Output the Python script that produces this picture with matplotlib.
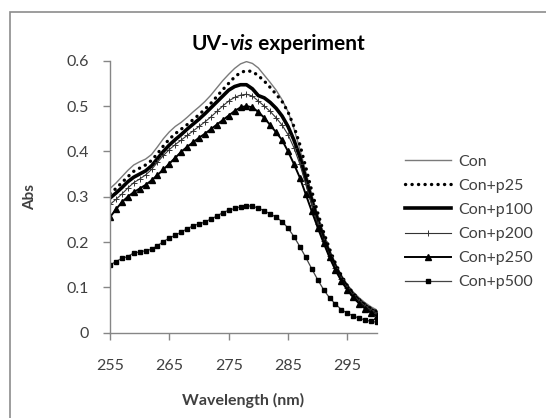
import matplotlib
matplotlib.use("Agg")
import matplotlib.pyplot as plt
from matplotlib.patches import Rectangle

wavelength = list(range(255, 301))

con = [0.318, 0.330, 0.344, 0.358, 0.370, 0.377, 0.383, 0.393, 0.410, 0.428,
       0.443, 0.455, 0.464, 0.475, 0.487, 0.498, 0.510, 0.524, 0.540, 0.556,
       0.570, 0.583, 0.593, 0.598, 0.594, 0.584, 0.568, 0.552, 0.535, 0.514,
       0.488, 0.450, 0.405, 0.355, 0.305, 0.260, 0.220, 0.183, 0.153, 0.127,
       0.106, 0.090, 0.077, 0.066, 0.057, 0.050]
con_p25 = [0.307, 0.318, 0.331, 0.344, 0.356, 0.363, 0.370, 0.380, 0.395, 0.412,
           0.427, 0.439, 0.449, 0.459, 0.470, 0.481, 0.493, 0.506, 0.521, 0.536,
           0.550, 0.564, 0.574, 0.578, 0.576, 0.567, 0.555, 0.541, 0.526, 0.510,
           0.487, 0.455, 0.415, 0.365, 0.313, 0.265, 0.222, 0.185, 0.153, 0.126,
           0.104, 0.087, 0.073, 0.062, 0.053, 0.046]
con_p100 = [0.297, 0.308, 0.320, 0.333, 0.343, 0.350, 0.357, 0.368, 0.384, 0.400,
            0.414, 0.426, 0.437, 0.449, 0.460, 0.471, 0.483, 0.496, 0.509, 0.522,
            0.535, 0.543, 0.547, 0.547, 0.538, 0.523, 0.518, 0.508, 0.495, 0.478,
            0.455, 0.425, 0.388, 0.340, 0.292, 0.248, 0.208, 0.174, 0.145, 0.120,
            0.100, 0.084, 0.071, 0.060, 0.051, 0.044]
con_p200 = [0.283, 0.294, 0.306, 0.319, 0.331, 0.339, 0.348, 0.360, 0.376, 0.391,
            0.404, 0.415, 0.425, 0.435, 0.445, 0.455, 0.465, 0.476, 0.488, 0.500,
            0.511, 0.519, 0.524, 0.526, 0.522, 0.511, 0.500, 0.488, 0.474, 0.458,
            0.437, 0.408, 0.372, 0.327, 0.282, 0.240, 0.202, 0.170, 0.142, 0.118,
            0.099, 0.083, 0.070, 0.059, 0.050, 0.043]
con_p250 = [0.255, 0.272, 0.288, 0.300, 0.310, 0.318, 0.326, 0.336, 0.348, 0.360,
            0.373, 0.386, 0.399, 0.410, 0.420, 0.430, 0.439, 0.449, 0.459, 0.469,
            0.479, 0.489, 0.497, 0.500, 0.497, 0.487, 0.474, 0.458, 0.442, 0.425,
            0.400, 0.372, 0.342, 0.305, 0.268, 0.232, 0.198, 0.166, 0.138, 0.114,
            0.094, 0.078, 0.064, 0.053, 0.044, 0.037]
con_p500 = [0.149, 0.157, 0.164, 0.168, 0.176, 0.178, 0.181, 0.184, 0.192, 0.201,
            0.209, 0.215, 0.222, 0.229, 0.236, 0.240, 0.244, 0.251, 0.257, 0.265,
            0.270, 0.274, 0.278, 0.280, 0.279, 0.275, 0.269, 0.262, 0.255, 0.245,
            0.231, 0.212, 0.190, 0.166, 0.141, 0.117, 0.095, 0.077, 0.063, 0.051,
            0.043, 0.037, 0.032, 0.028, 0.025, 0.023]

x_ticks = [255, 265, 275, 285, 295]
y_ticks = [0, 0.1, 0.2, 0.3, 0.4, 0.5, 0.6]
y_tick_labels = ["0", "0.1", "0.2", "0.3", "0.4", "0.5", "0.6"]

plt.rcParams['font.family'] = ['Lato', 'DejaVu Sans']
txt = '#404040'
axis_col = '#868686'

fig = plt.figure(figsize=(5.46, 4.18), dpi=100)
ax = fig.add_axes([110/546, 1 - 332.7/418, 267/546, 272/418])

ax.plot(wavelength, con, color='#7a7a7a', lw=1.0, label='Con')
ax.plot(wavelength, con_p25, color='black', lw=2.4, linestyle=(0, (0.05, 1.9)),
        dash_capstyle='round', label='Con+p25')
ax.plot(wavelength, con_p100, color='black', lw=2.6, label='Con+p100')
ax.plot(wavelength, con_p200, color='#333333', lw=0.8, marker='+', ms=4,
        mew=0.7, label='Con+p200')
ax.plot(wavelength, con_p250, color='black', lw=1.4, marker='^', ms=4.5,
        label='Con+p250')
ax.plot(wavelength, con_p500, color='#444444', lw=0.9, marker='s', ms=3.4,
        mfc='black', mec='black', label='Con+p500')

ax.set_xlim(255, 300)
ax.set_ylim(0, 0.6)
ax.set_xticks(x_ticks)
ax.set_yticks(y_ticks)
ax.set_yticklabels(y_tick_labels)
for s in ['top', 'right']:
    ax.spines[s].set_visible(False)
for s in ['left', 'bottom']:
    ax.spines[s].set_color(axis_col)
    ax.spines[s].set_linewidth(1.0)
ax.tick_params(axis='both', colors=axis_col, labelcolor=txt, labelsize=11.5,
               length=5, width=1.0, direction='out')
ax.tick_params(axis='y', pad=10)
ax.tick_params(axis='x', pad=14)

fig.text(30/546, 1 - 197/418, 'Abs', rotation=90, ha='center', va='center',
         fontsize=11, fontweight='bold', color=txt)
fig.text(243/546, 1 - 400/418, 'Wavelength (nm)', ha='center', va='center',
         fontsize=11.5, fontweight='bold', color=txt)

# title with italic "vis"
parts = [('UV-', 'normal'), ('vis', 'italic'), (' experiment', 'normal')]
renderer = fig.canvas.get_renderer()
widths = []
objs = []
for s, st in parts:
    t = fig.text(0, 1 - 50/418, s, fontsize=15, fontweight='bold', style=st,
                 color='black', ha='left', va='baseline')
    objs.append(t)
    widths.append(t.get_window_extent(renderer).width)
total = sum(widths)
x0 = 278 - total / 2
for t, w in zip(objs, widths):
    t.set_x(x0 / 546)
    x0 += w

leg = fig.legend(loc='center left', bbox_to_anchor=(405/546, 1 - 222/418),
                 frameon=False, fontsize=11.5, handlelength=2.9,
                 handletextpad=0.45, labelspacing=0.62, borderpad=0,
                 borderaxespad=0, numpoints=1)
for t in leg.get_texts():
    t.set_color(txt)

fig.patches.append(Rectangle((10/546, -0.05), 1.1, 1 - 12/418 + 0.05,
                             transform=fig.transFigure, fill=False,
                             edgecolor='#8c8c8c', lw=1.2))

fig.savefig('out.png', dpi=100)
